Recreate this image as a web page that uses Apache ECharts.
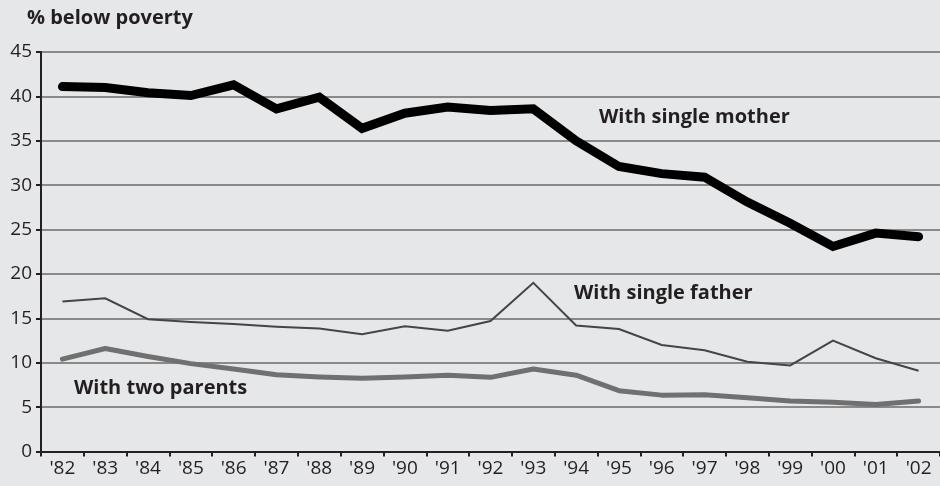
<!DOCTYPE html>
<html>
<head>
<meta charset="utf-8">
<script src="https://cdn.jsdelivr.net/npm/echarts@6/dist/echarts.min.js"></script>
<style>
  html, body { margin: 0; padding: 0; background: #e6e7e9; }
  #chart { width: 940px; height: 486px; }
</style>
</head>
<body>
<div id="chart"></div>
<script>
// Share of children below the poverty line, by family type
const years = ["'82", "'83", "'84", "'85", "'86", "'87", "'88", "'89", "'90", "'91", "'92",
               "'93", "'94", "'95", "'96", "'97", "'98", "'99", "'00", "'01", "'02"];
const singleMother = [41.1, 41.0, 40.4, 40.1, 41.3, 38.6, 39.9, 36.4, 38.1, 38.8, 38.4,
                      38.6, 35.0, 32.1, 31.3, 30.9, 28.1, 25.7, 23.1, 24.6, 24.2];
const singleFather = [16.9, 17.25, 14.9, 14.6, 14.35, 14.05, 13.85, 13.2, 14.1, 13.6, 14.7,
                      19.0, 14.2, 13.8, 12.0, 11.4, 10.1, 9.7, 12.5, 10.5, 9.1];
const twoParents = [10.4, 11.6, 10.7, 9.9, 9.3, 8.65, 8.4, 8.25, 8.4, 8.6, 8.35,
                    9.3, 8.6, 6.85, 6.35, 6.4, 6.05, 5.7, 5.55, 5.3, 5.7];
const yTicks = [0, 5, 10, 15, 20, 25, 30, 35, 40, 45];

const AXIS_FONT = '"Open Sans", Lato, sans-serif';
const LABEL_FONT = '"Open Sans", Lato, sans-serif';
const chart = echarts.init(document.getElementById('chart'), null, { renderer: 'canvas' });

chart.setOption({
  backgroundColor: '#e6e7e9',
  animation: false,
  title: {
    text: '% below poverty',
    left: 22, top: 3, padding: [5, 5],
    textStyle: { fontFamily: LABEL_FONT, fontSize: 20, fontWeight: 'bold', color: '#231f20' }
  },
  grid: { left: 41, top: 52, width: 903, height: 399.5, containLabel: false },
  xAxis: {
    type: 'category',
    data: years,
    boundaryGap: true,
    axisLine: { lineStyle: { color: '#231f20', width: 2 } },
    axisTick: { show: true, length: 5, lineStyle: { color: '#231f20', width: 2 } },
    axisLabel: { fontFamily: AXIS_FONT, fontSize: 19, color: '#231f20', margin: 8, interval: 0 },
    splitLine: { show: false }
  },
  yAxis: {
    type: 'value',
    min: yTicks[0], max: yTicks[yTicks.length - 1], interval: 5,
    axisLine: { show: true, lineStyle: { color: '#231f20', width: 2 } },
    axisTick: { show: true, length: 5, lineStyle: { color: '#231f20', width: 2 } },
    axisLabel: { fontFamily: AXIS_FONT, fontSize: 19, color: '#231f20', margin: 9 },
    splitLine: { lineStyle: { color: '#8a8a8a', width: 2 } }
  },
  series: [
    {
      name: 'With two parents', type: 'line', data: twoParents,
      showSymbol: false, z: 3,
      lineStyle: { color: '#707070', width: 5, join: 'round', cap: 'round' }
    },
    {
      name: 'With single father', type: 'line', data: singleFather,
      showSymbol: false, z: 4,
      lineStyle: { color: '#454545', width: 2, join: 'miter' }
    },
    {
      name: 'With single mother', type: 'line', data: singleMother,
      showSymbol: false, z: 5,
      lineStyle: { color: '#000000', width: 9, join: 'miter', cap: 'round' }
    }
  ],
  graphic: [
    { type: 'text', left: 599, top: 107, style: { text: 'With single mother', font: 'bold 20px ' + LABEL_FONT, fill: '#231f20' } },
    { type: 'text', left: 574, top: 283, style: { text: 'With single father', font: 'bold 20px ' + LABEL_FONT, fill: '#231f20' } },
    { type: 'text', left: 74, top: 378, style: { text: 'With two parents', font: 'bold 20px ' + LABEL_FONT, fill: '#231f20' } }
  ]
});
</script>
</body>
</html>
